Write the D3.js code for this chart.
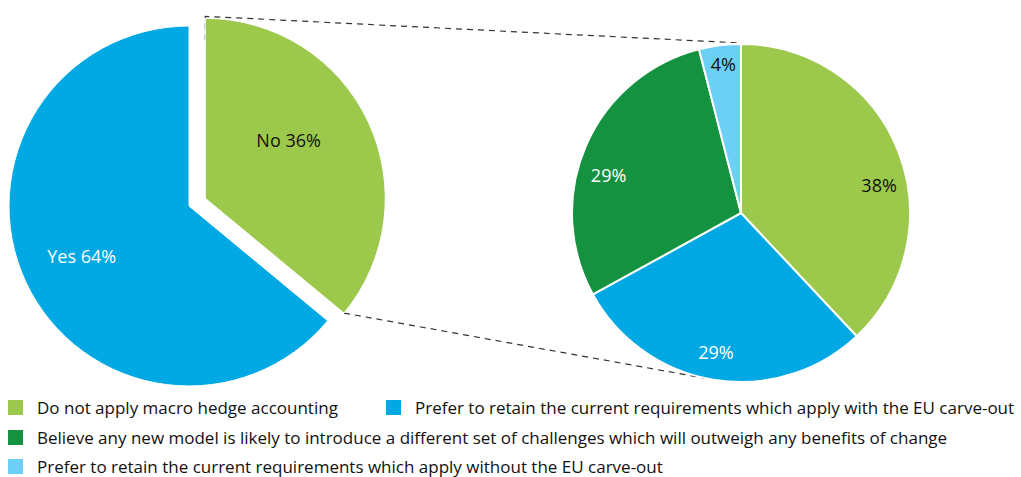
<!DOCTYPE html>
<html>
<head>
<meta charset="utf-8">
<script src="https://cdn.jsdelivr.net/npm/d3@7"></script>
<style>
  body { margin: 0; background: #fff; }
  svg { font-family: "Open Sans", "Noto Sans", sans-serif; }
</style>
</head>
<body>
<div id="chart"></div>
<script>
// Data
const leftLabels = ["No", "Yes"];
const leftValues = [36, 64];
const leftColors = ["#9cc94b", "#00a8e4"];

const rightCategories = [
  "Do not apply macro hedge accounting",
  "Prefer to retain the current requirements which apply with the EU carve-out",
  "Believe any new model is likely to introduce a different set of challenges which will outweigh any benefits of change",
  "Prefer to retain the current requirements which apply without the EU carve-out"
];
const rightValues = [38, 29, 29, 4];
const rightColors = ["#9cc94b", "#00a8e4", "#14923f", "#6ccff5"];
const rightTextColors = ["#111", "#fff", "#fff", "#111"];

let width = 1021, height = 477;

let svg = d3.select("#chart")
    .append("svg")
    .attr("width", width)
    .attr("height", height);

const pie = d3.pie().sort(null).startAngle(0).endAngle(2 * Math.PI);

// Left pie
const leftCenter = [189, 206];
const leftR = 180;
const explode = 18;
const leftArcs = pie(leftValues);
const leftArc = d3.arc().innerRadius(0).outerRadius(leftR);
const leftLabelArc = d3.arc().innerRadius(112).outerRadius(112);
const leftNudge = [[-18, -10], [-6, 3]];

function offsetOf(d, i) {
  if (i !== 0) return [0, 0];
  const a = (d.startAngle + d.endAngle) / 2;
  return [Math.sin(a) * explode, -Math.cos(a) * explode];
}

// Right pie geometry
const rightCenter = [741, 213];
const rightR = 169;
const rightNudge = [[7, 25], [-3, 0], [-3, 19], [0, -8]];

// Connector lines (drawn first, under the pies)
const noSlice = leftArcs[0];
const off = offsetOf(noSlice, 0);
const topStart = [leftCenter[0] + off[0], leftCenter[1] + off[1] - leftR - 2];
const endA = noSlice.endAngle;
const bottomStart = [leftCenter[0] + off[0] + Math.sin(endA) * leftR,
                     leftCenter[1] + off[1] - Math.cos(endA) * leftR];
const topEnd = [rightCenter[0], rightCenter[1] - rightR - 1];
const bottomAngle = 190 * Math.PI / 180;
const bottomEnd = [rightCenter[0] + Math.sin(bottomAngle) * rightR,
                   rightCenter[1] - Math.cos(bottomAngle) * rightR];

svg.append("path")
    .attr("d", `M${topStart[0]},${topStart[1] + 24} L${topStart[0]},${topStart[1]} L${topEnd[0]},${topEnd[1]}`)
    .attr("fill", "none")
    .attr("stroke", "#333")
    .attr("stroke-width", 1.2)
    .attr("stroke-dasharray", "6,5");

svg.append("path")
    .attr("d", `M${bottomStart[0]},${bottomStart[1]} L${bottomEnd[0]},${bottomEnd[1]}`)
    .attr("fill", "none")
    .attr("stroke", "#333")
    .attr("stroke-width", 1.2)
    .attr("stroke-dasharray", "6,5");

let leftG = svg.append("g")
    .attr("transform", `translate(${leftCenter[0]}, ${leftCenter[1]})`);

leftG.selectAll(".slice")
    .data(leftArcs)
    .enter()
    .append("path")
    .attr("class", "slice")
    .attr("transform", (d, i) => `translate(${offsetOf(d, i)})`)
    .attr("d", leftArc)
    .attr("fill", (d, i) => leftColors[i])
    .attr("stroke", "#fff")
    .attr("stroke-width", 1);

leftG.selectAll(".slice-label")
    .data(leftArcs)
    .enter()
    .append("text")
    .attr("class", "slice-label")
    .attr("transform", (d, i) => {
      const c = leftLabelArc.centroid(d);
      const o = offsetOf(d, i);
      const n = leftNudge[i];
      return `translate(${c[0] + o[0] + n[0]}, ${c[1] + o[1] + n[1]})`;
    })
    .attr("dy", "0.35em")
    .style("text-anchor", "middle")
    .style("font-size", "18px")
    .style("fill", (d, i) => i === 0 ? "#111" : "#fff")
    .text((d, i) => `${leftLabels[i]} ${leftValues[i]}%`);

// Right pie
let rightG = svg.append("g")
    .attr("transform", `translate(${rightCenter[0]}, ${rightCenter[1]})`);

const rightArcs = pie(rightValues);
const rightArc = d3.arc().innerRadius(0).outerRadius(rightR);
const rightLabelArc = d3.arc().innerRadius(141).outerRadius(141);

rightG.selectAll(".slice")
    .data(rightArcs)
    .enter()
    .append("path")
    .attr("class", "slice")
    .attr("d", rightArc)
    .attr("fill", (d, i) => rightColors[i])
    .attr("stroke", "#fff")
    .attr("stroke-width", 2);

rightG.selectAll(".slice-label")
    .data(rightArcs)
    .enter()
    .append("text")
    .attr("class", "slice-label")
    .attr("transform", (d, i) => {
      const c = rightLabelArc.centroid(d);
      return `translate(${c[0] + rightNudge[i][0]}, ${c[1] + rightNudge[i][1]})`;
    })
    .attr("dy", "0.35em")
    .style("text-anchor", "middle")
    .style("font-size", "18px")
    .style("fill", (d, i) => rightTextColors[i])
    .text((d, i) => `${rightValues[i]}%`);

// Legend
const legendPos = [[8, 408], [386, 408], [8, 438], [8, 467]];
let legend = svg.selectAll(".legend")
    .data(d3.range(rightCategories.length))
    .enter()
    .append("g")
    .attr("class", "legend")
    .attr("transform", (d, i) => `translate(${legendPos[i][0]}, ${legendPos[i][1]})`);

legend.append("rect")
    .attr("x", 0)
    .attr("y", -8)
    .attr("width", 15)
    .attr("height", 15)
    .attr("fill", d => rightColors[d]);

legend.append("text")
    .attr("x", 29)
    .attr("y", 0)
    .attr("dy", "0.35em")
    .style("font-size", "17px")
    .style("fill", "#111")
    .text(d => rightCategories[d]);
</script>
</body>
</html>
